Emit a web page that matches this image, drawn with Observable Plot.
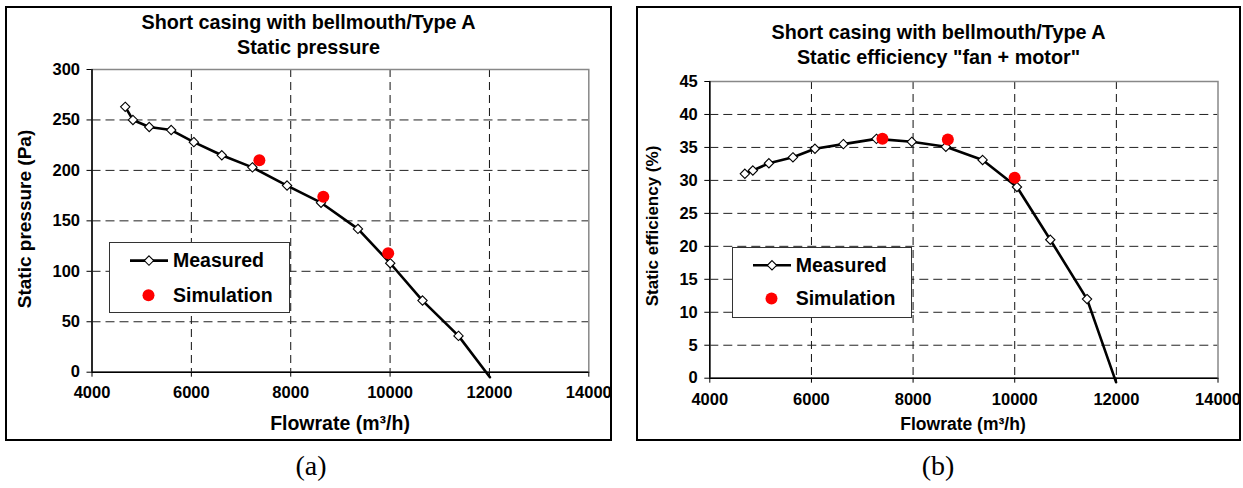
<!DOCTYPE html>
<html>
<head>
<meta charset="utf-8">
<script src="https://cdn.jsdelivr.net/npm/d3@7"></script>
<script src="https://cdn.jsdelivr.net/npm/@observablehq/plot@0.6"></script>
<style>
  html, body { margin: 0; padding: 0; background: #fff; }
  #page { position: relative; width: 1243px; height: 488px; overflow: hidden; background: #fff;
          font-family: "Liberation Sans", Arial, sans-serif; color: #000; }
  .box { position: absolute; border: 2px solid #000; box-sizing: border-box; }
  .title { position: absolute; text-align: center; font-weight: bold; line-height: 25.6px; white-space: nowrap; }
  .axt { position: absolute; font-weight: bold; white-space: nowrap; transform: translate(-50%, -50%); }
  .axty { position: absolute; font-weight: bold; white-space: nowrap; transform: translate(-50%, -50%) rotate(-90deg); }
  .legend { position: absolute; background: #fff; border: 1px solid #333; box-sizing: border-box; }
  .legtext { position: absolute; font-weight: bold; font-size: 19.5px; white-space: nowrap; transform: translateY(-50%); }
  .cap { position: absolute; font-family: "Liberation Serif", "Times New Roman", serif; font-size: 28px; white-space: nowrap; transform: translate(-50%, -50%); }
</style>
</head>
<body>
<div id="page"></div>
<script>
// ---------- data ----------
const xTicks = [4000, 6000, 8000, 10000, 12000, 14000];

// Panel (a): static pressure
const measuredFlowA = [4669, 4824, 5152, 5594, 6050, 6613, 7229, 7926, 8610, 9353, 10003, 10653, 11377];
const measuredPressureA = [263, 250, 243, 240, 228, 215, 203, 185, 168, 142, 108, 71, 36];
const lineEndFlowA = 12010;
const lineEndPressureA = -5;
const simFlowA = [7369, 8656, 9962];
const simPressureA = [210, 174, 118];
const yTicksA = [0, 50, 100, 150, 200, 250, 300];

// Panel (b): static efficiency
const measuredFlowB = [4690, 4847, 5163, 5636, 6069, 6628, 7279, 7975, 8645, 9368, 10044, 10700, 11423];
const measuredEffB = [31.0, 31.5, 32.6, 33.5, 34.8, 35.5, 36.3, 35.85, 35.1, 33.1, 29.0, 21.0, 12.0];
const lineEndFlowB = 11994;
const lineEndEffB = -0.6;
const simFlowB = [7397, 8684, 9998];
const simEffB = [36.3, 36.2, 30.4];
const yTicksB = [0, 5, 10, 15, 20, 25, 30, 35, 40, 45];

const titleA = ["Short casing with bellmouth/Type A", "Static pressure"];
const titleB = ["Short casing with bellmouth/Type A", "Static efficiency \"fan + motor\""];
const xLabel = "Flowrate (m³/h)";
const yLabelA = "Static pressure (Pa)";
const yLabelB = "Static efficiency (%)";
const legendLabels = ["Measured", "Simulation"];
const captions = ["(a)", "(b)"];

// ---------- helpers ----------
const page = document.getElementById("page");
function el(tag, cls, style, text) {
  const e = document.createElement(tag);
  if (cls) e.className = cls;
  Object.assign(e.style, style || {});
  if (text != null) e.textContent = text;
  page.appendChild(e);
  return e;
}

function panel(cfg) {
  el("div", "box", {left: cfg.left + "px", top: cfg.top + "px", width: cfg.width + "px", height: cfg.height + "px"});

  const measured = cfg.mx.map((x, i) => ({x, y: cfg.my[i]}));
  const lineData = measured.concat([{x: cfg.endX, y: cfg.endY}]);
  const sim = cfg.sx.map((x, i) => ({x, y: cfg.sy[i]}));
  const yt = cfg.yTicks;

  const svg = Plot.plot({
    width: cfg.width,
    height: cfg.height,
    marginLeft: cfg.mL, marginRight: cfg.mR, marginTop: cfg.mT, marginBottom: cfg.mB,
    style: {fontFamily: "'Liberation Sans', Arial, sans-serif", fontWeight: "bold", fontSize: "16.5px", color: "#000", background: "transparent", overflow: "visible"},
    x: {domain: [4000, 14000]},
    y: {domain: [yt[0], yt[yt.length - 1]]},
    marks: [
      Plot.gridX(xTicks.slice(1, -1), {stroke: "#111", strokeOpacity: 1, strokeWidth: 1, strokeDasharray: "8,5"}),
      Plot.gridY(yt.slice(1, -1), {stroke: "#222", strokeOpacity: 1, strokeWidth: 1, strokeDasharray: "9,5"}),
      Plot.frame({stroke: "#888", strokeWidth: 1.5}),
      Plot.axisX(xTicks, {tickSize: 5, tickPadding: cfg.xPad, label: null, fontSize: 16.5, fontWeight: "bold", tickFormat: d => String(d)}),
      Plot.axisY(yt, {tickSize: 5, tickPadding: 7, label: null, fontSize: 16.5, fontWeight: "bold", tickFormat: d => String(d)}),
      Plot.ruleX([4000], {stroke: "#000", strokeWidth: 1.5}),
      Plot.ruleY([yt[0]], {stroke: "#000", strokeWidth: 1.5}),
      Plot.line(lineData, {x: "x", y: "y", stroke: "#000", strokeWidth: 2.6}),
      Plot.dot(measured, {x: "x", y: "y", symbol: "diamond2", r: 4.2, fill: "#fff", stroke: "#000", strokeWidth: 1.1}),
      Plot.dot(sim, {x: "x", y: "y", r: 6, fill: "#ff0000", stroke: "none"})
    ]
  });
  svg.style.position = "absolute";
  svg.style.left = cfg.left + "px";
  svg.style.top = cfg.top + "px";
  svg.querySelectorAll("text").forEach(t => { t.style.fontWeight = "bold"; });
  page.appendChild(svg);

  const t = el("div", "title", {left: cfg.left + "px", width: cfg.width + "px", top: cfg.titleTop + "px", fontSize: "19.8px"});
  t.innerHTML = cfg.title.map(s => s.replace(/&/g, "&amp;").replace(/</g, "&lt;")).join("<br>");

  el("div", "axt", {left: cfg.xtX + "px", top: cfg.xtY + "px", fontSize: cfg.xtSize + "px"}, xLabel);
  el("div", "axty", {left: cfg.ytX + "px", top: cfg.ytY + "px", fontSize: cfg.ytSize + "px"}, cfg.yLabel);

  const lg = el("div", "legend", {left: cfg.lg.x + "px", top: cfg.lg.y + "px", width: cfg.lg.w + "px", height: cfg.lg.h + "px"});
  const ns = "http://www.w3.org/2000/svg";
  const ls = document.createElementNS(ns, "svg");
  ls.setAttribute("width", cfg.lg.w);
  ls.setAttribute("height", cfg.lg.h);
  ls.style.position = "absolute"; ls.style.left = "-1px"; ls.style.top = "-1px";
  const r1 = cfg.lg.row1, r2 = cfg.lg.row2;
  ls.innerHTML =
    `<line x1="21" x2="59" y1="${r1}" y2="${r1}" stroke="#000" stroke-width="2.6"/>` +
    `<path d="M40,${r1 - 4.7}L44.7,${r1}L40,${r1 + 4.7}L35.3,${r1}Z" fill="#fff" stroke="#000" stroke-width="1.1"/>` +
    `<circle cx="39.5" cy="${r2}" r="6" fill="#ff0000"/>`;
  lg.appendChild(ls);
  const a = document.createElement("div"); a.className = "legtext"; a.style.left = "63px"; a.style.top = (r1 - 1) + "px"; a.textContent = legendLabels[0]; lg.appendChild(a);
  const b = document.createElement("div"); b.className = "legtext"; b.style.left = "63px"; b.style.top = (r2 - 1) + "px"; b.textContent = legendLabels[1]; lg.appendChild(b);

  el("div", "cap", {left: cfg.capX + "px", top: "466px"}, cfg.caption);
}

panel({
  left: 5, top: 6, width: 607, height: 435,
  mL: 86.5, mR: 23.7, mT: 63, mB: 69.3, xPad: 9,
  mx: measuredFlowA, my: measuredPressureA, endX: lineEndFlowA, endY: lineEndPressureA,
  sx: simFlowA, sy: simPressureA, yTicks: yTicksA,
  title: titleA, titleTop: 9.9,
  xtX: 340, xtY: 423, xtSize: 19.5,
  yLabel: yLabelA, ytX: 25, ytY: 219, ytSize: 19,
  lg: {x: 109, y: 241.7, w: 180.5, h: 71.6, row1: 18.6, row2: 53.3},
  capX: 311, caption: captions[0]
});

panel({
  left: 636, top: 6, width: 605, height: 435,
  mL: 73.3, mR: 23.5, mT: 75, mB: 63.3, xPad: 10,
  mx: measuredFlowB, my: measuredEffB, endX: lineEndFlowB, endY: lineEndEffB,
  sx: simFlowB, sy: simEffB, yTicks: yTicksB,
  title: titleB, titleTop: 19.5,
  xtX: 963, xtY: 424, xtSize: 17.5,
  yLabel: yLabelB, ytX: 653, ytY: 226, ytSize: 17,
  lg: {x: 731.7, y: 246.7, w: 180.6, h: 71, row1: 18.3, row2: 51.6},
  capX: 938, caption: captions[1]
});
</script>
</body>
</html>
